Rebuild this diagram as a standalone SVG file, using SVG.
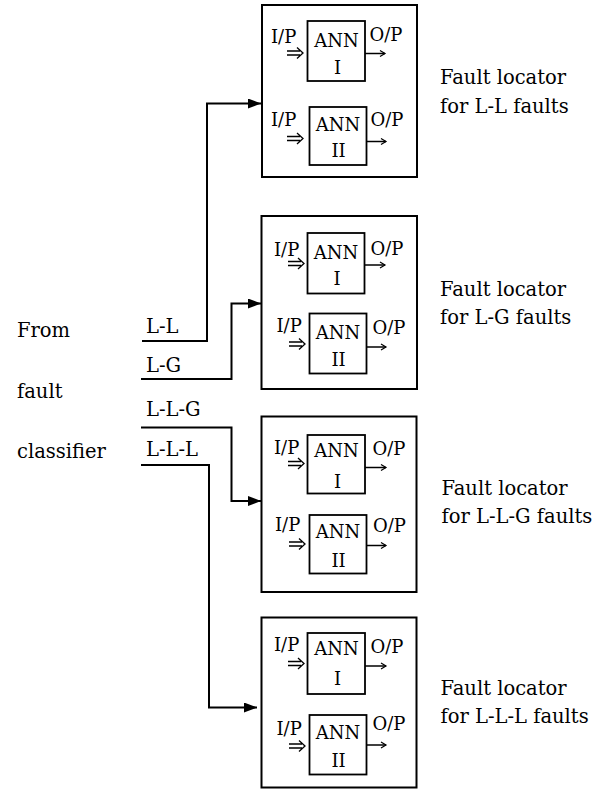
<svg xmlns="http://www.w3.org/2000/svg" width="608" height="790" viewBox="0 0 608 790">
<defs>
<marker id="tri" markerWidth="14" markerHeight="12" refX="13" refY="5" orient="auto" markerUnits="userSpaceOnUse">
<path d="M0,0 L13,5 L0,10 Z" fill="#000"/>
</marker>
<marker id="open" markerWidth="8" markerHeight="8" refX="6" refY="4" orient="auto" markerUnits="userSpaceOnUse">
<path d="M1,1 L6,4 L1,7" fill="none" stroke="#000" stroke-width="1.2"/>
</marker>
<path id="dbl" d="M0,-2 H13 M0,2 H13 M10,-5.5 L16,0 L10,5.5" fill="none" stroke="#000" stroke-width="1.3"/>
<style>
.box{fill:#fff;stroke:#000;stroke-width:2}
.ann{fill:#fff;stroke:#000;stroke-width:1.8}
.t{font-family:"DejaVu Serif","Liberation Serif",serif;font-size:19.5px;fill:#000}
.s{font-family:"DejaVu Serif","Liberation Serif",serif;font-size:18px;fill:#000}
.m{text-anchor:middle}
.out{stroke:#000;stroke-width:1.5;fill:none;marker-end:url(#open)}
.c{stroke:#000;stroke-width:2;fill:none;marker-end:url(#tri)}
</style>
</defs>
<rect width="608" height="790" fill="#fff"/>

<g id="source">
<text class="t" x="17" y="337">From</text>
<text class="t" x="17" y="398">fault</text>
<text class="t" x="17" y="458">classifier</text>
<text class="t" x="146" y="333">L-L</text>
<text class="t" x="146" y="372">L-G</text>
<text class="t" x="146" y="416">L-L-G</text>
<text class="t" x="146" y="456">L-L-L</text>
</g>

<g id="connectors">
<path class="c" d="M142,341 H207 V103.5 H261"/>
<path class="c" d="M141,379 H231.5 V303.5 H261"/>
<path class="c" d="M141,427.5 H231.5 V501 H261"/>
<path class="c" d="M141,465 H209 V707.5 H257"/>
</g>

<g id="locator-LL">
<rect class="box" x="262" y="5" width="155" height="172"/>
<rect class="ann" x="307.5" y="21" width="57.5" height="60"/>
<text class="s" x="271" y="43">I/P</text>
<use href="#dbl" x="287" y="53"/>
<text class="s m" x="336.5" y="46.5">ANN</text>
<text class="s m" x="337.5" y="74">I</text>
<text class="s" x="369.5" y="41">O/P</text>
<path class="out" d="M365,53.5 H385"/>
<rect class="ann" x="309.5" y="107" width="57" height="58"/>
<text class="s" x="271" y="126">I/P</text>
<use href="#dbl" x="287" y="138.5"/>
<text class="s m" x="338" y="130.5">ANN</text>
<text class="s m" x="338.5" y="157">II</text>
<text class="s" x="370.5" y="126">O/P</text>
<path class="out" d="M366.5,141.5 H386"/>
<text class="t" x="440" y="84">Fault locator</text>
<text class="t" x="440" y="113">for L-L faults</text>
</g>

<g id="locator-LG">
<rect class="box" x="261.5" y="216" width="155.5" height="173"/>
<rect class="ann" x="307.5" y="233" width="57" height="60.5"/>
<text class="s" x="274" y="256">I/P</text>
<use href="#dbl" x="288" y="263.5"/>
<text class="s m" x="336" y="258.5">ANN</text>
<text class="s m" x="337" y="285">I</text>
<text class="s" x="370.5" y="255">O/P</text>
<path class="out" d="M364.5,265 H385"/>
<rect class="ann" x="309.5" y="313.5" width="57" height="60"/>
<text class="s" x="276.5" y="332">I/P</text>
<use href="#dbl" x="289" y="344"/>
<text class="s m" x="338" y="338.5">ANN</text>
<text class="s m" x="338.5" y="365.5">II</text>
<text class="s" x="372.5" y="333.5">O/P</text>
<path class="out" d="M366.5,347 H386"/>
<text class="t" x="440" y="296">Fault locator</text>
<text class="t" x="440" y="324">for L-G faults</text>
</g>

<g id="locator-LLG">
<rect class="box" x="261.5" y="416.5" width="155" height="175.5"/>
<rect class="ann" x="307.5" y="435" width="57.5" height="58.5"/>
<text class="s" x="274" y="453.5">I/P</text>
<use href="#dbl" x="288" y="463.5"/>
<text class="s m" x="336.5" y="457">ANN</text>
<text class="s m" x="337.5" y="487.5">I</text>
<text class="s" x="372.5" y="455">O/P</text>
<path class="out" d="M365,467.5 H386"/>
<rect class="ann" x="309.5" y="515" width="57" height="58.5"/>
<text class="s" x="275" y="530.5">I/P</text>
<use href="#dbl" x="289" y="544"/>
<text class="s m" x="338" y="538">ANN</text>
<text class="s m" x="338.5" y="566.5">II</text>
<text class="s" x="373" y="531.5">O/P</text>
<path class="out" d="M366.5,545.5 H386"/>
<text class="t" x="441.5" y="495">Fault locator</text>
<text class="t" x="441.5" y="523">for L-L-G faults</text>
</g>

<g id="locator-LLL">
<rect class="box" x="261.5" y="617.5" width="155" height="170"/>
<rect class="ann" x="307.5" y="633" width="57.5" height="61"/>
<text class="s" x="274" y="651">I/P</text>
<use href="#dbl" x="288" y="663.5"/>
<text class="s m" x="336.5" y="655">ANN</text>
<text class="s m" x="337.5" y="685">I</text>
<text class="s" x="370.5" y="653">O/P</text>
<path class="out" d="M365,666 H386"/>
<rect class="ann" x="309.5" y="715" width="57" height="59.5"/>
<text class="s" x="276.5" y="735">I/P</text>
<use href="#dbl" x="289" y="746"/>
<text class="s m" x="338" y="738.5">ANN</text>
<text class="s m" x="338.5" y="766.5">II</text>
<text class="s" x="372.5" y="730">O/P</text>
<path class="out" d="M366.5,745 H386"/>
<text class="t" x="440.5" y="695">Fault locator</text>
<text class="t" x="440.5" y="723">for L-L-L faults</text>
</g>
</svg>
